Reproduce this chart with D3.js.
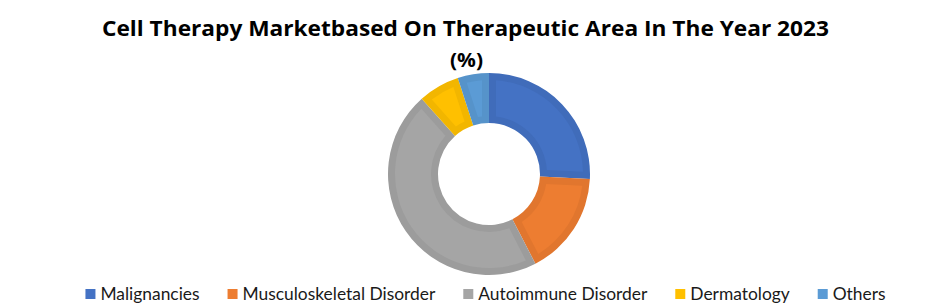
<!DOCTYPE html>
<html>
<head>
<meta charset="utf-8">
<script src="https://cdn.jsdelivr.net/npm/d3@7"></script>
<style>
  body { margin: 0; background: #fff; }
  svg { display: block; }
</style>
</head>
<body>
<svg id="chart"></svg>
<script>
// data (percent share, 2023)
var categories = ["Malignancies", "Musculoskeletal Disorder", "Autoimmune Disorder", "Dermatology", "Others"];
var shares = [25.8, 16.6, 46.0, 6.6, 5.0];
var colors = ["#4472C4", "#ED7D31", "#A5A5A5", "#FFC000", "#5B9BD5"];
var titleLines = ["Cell Therapy Marketbased On Therapeutic Area In The Year 2023", "(%)"];

var width = 935;
var height = 307;

var svg = d3.select("#chart")
    .attr("width", width)
    .attr("height", height);

// title
var title = svg.append("g")
    .attr("font-family", "'Open Sans', sans-serif")
    .attr("font-weight", "bold")
    .attr("fill", "#000")
    .attr("text-anchor", "middle");

title.append("text")
    .attr("x", 465.5)
    .attr("y", 36)
    .attr("font-size", 21)
    .attr("textLength", 727)
    .attr("lengthAdjust", "spacingAndGlyphs")
    .text(titleLines[0]);

title.append("text")
    .attr("x", 466.5)
    .attr("y", 67)
    .attr("font-size", 20)
    .attr("textLength", 33)
    .attr("lengthAdjust", "spacingAndGlyphs")
    .text(titleLines[1]);

// donut
var cx = 489, cy = 174;
var rOuter = 101, rInner = 51;

var pie = d3.pie().sort(null).value(function(d) { return d; });
var arcs = pie(shares);

var arc = d3.arc().innerRadius(rInner).outerRadius(rOuter);
var arcIn = d3.arc()
    .innerRadius(rInner + 7)
    .outerRadius(rOuter - 7)
    .padRadius(100)
    .padAngle(0.14);

var g = svg.append("g")
    .attr("transform", "translate(" + cx + "," + cy + ")");

g.selectAll("path.edge")
  .data(arcs)
  .join("path")
    .attr("class", "edge")
    .attr("fill", function(d, i) { return d3.color(colors[i]).darker(0.15); })
    .attr("d", arc);

g.selectAll("path.face")
  .data(arcs)
  .join("path")
    .attr("class", "face")
    .attr("fill", function(d, i) { return colors[i]; })
    .attr("d", arcIn);

// legend
var legend = svg.append("g")
    .attr("font-family", "Lato, sans-serif")
    .attr("font-size", 17.4)
    .attr("fill", "#1a1a1a");

var items = legend.selectAll("g")
  .data(categories)
  .join("g");

items.append("rect")
    .attr("width", 10)
    .attr("height", 10)
    .attr("y", 289)
    .attr("fill", function(d, i) { return colors[i]; });

items.append("text")
    .attr("x", 15)
    .attr("y", 300)
    .text(function(d) { return d; });

var x = 0;
var pos = [];
items.each(function() {
  var tw = d3.select(this).select("text").node().getComputedTextLength();
  pos.push(x);
  x += 15 + tw + 28;
});
var total = x - 28;
var x0 = 485.5 - total / 2;
items.attr("transform", function(d, i) { return "translate(" + (x0 + pos[i]) + ",0)"; });
</script>
</body>
</html>
